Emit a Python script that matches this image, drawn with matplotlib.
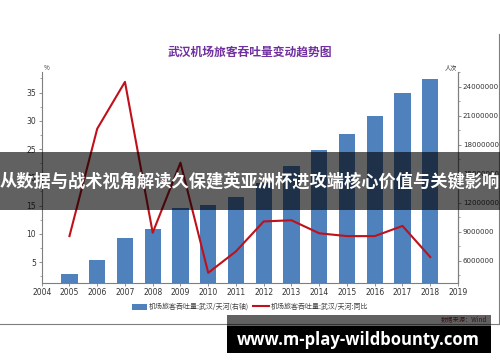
import matplotlib
matplotlib.use("Agg")
import matplotlib.pyplot as plt
from matplotlib.patches import Rectangle, Patch
from matplotlib.lines import Line2D
from matplotlib.ticker import MultipleLocator, FuncFormatter

plt.rcParams['font.family'] = ['Noto Sans CJK SC', 'DejaVu Sans']

years = [2005, 2006, 2007, 2008, 2009, 2010, 2011, 2012, 2013, 2014, 2015, 2016, 2017, 2018]
passengers = [4670000, 6100000, 8400000, 9270000, 11430000, 11750000, 12550000,
              14050000, 15860000, 17500000, 19170000, 21000000, 23400000, 24780000]
growth = [9.6, 28.6, 36.9, 10.2, 22.6, 3.1, 6.9, 12.2, 12.4, 10.1, 9.6, 9.6, 11.4, 5.9]
xticks = list(range(2004, 2020))

title = "武汉机场旅客吞吐量变动趋势图"
bar_label = "机场旅客吞吐量:武汉/天河(右轴)"
line_label = "机场旅客吞吐量:武汉/天河:同比"
source = "数据来源：Wind"
banner = "从数据与战术视角解读久保建英亚洲杯进攻端核心价值与关键影响"
site = "www.m-play-wildbounty.com"

W, H = 500, 362
fig = plt.figure(figsize=(W / 100, H / 100), dpi=100)

def fx(px):
    return px / W

def fy(py):
    return 1 - py / H

ax = fig.add_axes([fx(41.7), fy(283), fx(458 - 41.7), (283 - 71.7) / H])
ax2 = ax.twinx()
ax.set_zorder(ax2.get_zorder() + 1)
ax.patch.set_visible(False)

ax2.bar(years, passengers, width=0.58, color='#4f81bd')
ax.plot(years, growth, color='#c0101a', lw=1.5)

tick_font = ['Liberation Sans Narrow', 'DejaVu Sans']
ax.set_xlim(2004, 2019)
ax.set_xticks(xticks)
ax.set_xticklabels([str(y) for y in xticks], family=tick_font, fontsize=5.5)
ax.set_ylim(1.3, 38.7)
ax.yaxis.set_major_locator(MultipleLocator(5))
ax.yaxis.set_minor_locator(MultipleLocator(2.5))
ax.yaxis.set_major_formatter(FuncFormatter(lambda v, p: "%d" % v))
ax2.set_ylim(3700000, 25570000)
ax2.yaxis.set_major_locator(MultipleLocator(3000000))
ax2.yaxis.set_minor_locator(MultipleLocator(1500000))
ax2.yaxis.set_major_formatter(FuncFormatter(lambda v, p: "%d" % v))

for a in (ax, ax2):
    a.spines['top'].set_visible(False)
    for s in a.spines.values():
        s.set_color('#7f7f7f')
        s.set_linewidth(0.8)
    a.tick_params(which='major', length=2.5, width=0.6, color='#7f7f7f',
                  labelsize=5.5, pad=1.5, labelcolor='#333333')
    a.tick_params(which='minor', length=1.5, width=0.5, color='#7f7f7f')
    for lab in a.get_yticklabels():
        lab.set_family(tick_font)
ax.tick_params(axis='x', which='both', length=2)
ax2.tick_params(axis='y', labelsize=5.1, pad=1)
ax2.spines['left'].set_visible(False)
ax2.spines['bottom'].set_visible(False)

fig.text(fx(44), fy(72), "%", fontsize=4.5, color='#333333', ha='left', va='bottom')
fig.text(fx(457), fy(72), "人次", fontsize=4.5, color='#333333', ha='right', va='bottom')

fig.text(0.5, fy(52), title, fontsize=8.5, fontweight='bold', color='#7030a0',
         ha='center', va='center')

handles = [Patch(facecolor='#4f81bd', edgecolor='none'),
           Line2D([0], [0], color='#c0101a', lw=1.5)]
fig.legend(handles, [bar_label, line_label], loc='center', ncol=2,
           bbox_to_anchor=(fx(250), fy(307)), frameon=False, fontsize=5,
           labelcolor='#404040', handlelength=2.2, handleheight=1.0,
           columnspacing=0.6, handletextpad=0.3)

# frame lines
fig.add_artist(Line2D([fx(498.5), fx(498.5)], [fy(34), fy(324)], color='#7f7f7f', lw=0.8))
fig.add_artist(Line2D([0, fx(498.5)], [fy(324), fy(324)], color='#7f7f7f', lw=0.8))

fig.text(fx(487), fy(319), source, fontsize=4.5, style='italic', color='#8b3a3a',
         ha='right', va='center')

# overlay banner
fig.add_artist(Rectangle((0, fy(210)), 1, (210 - 152) / H, transform=fig.transFigure,
                         facecolor='black', alpha=0.62, edgecolor='none', zorder=10))
fig.text(0.5, fy(182), banner, fontsize=12.4, fontweight='bold', color='white',
         ha='center', va='center', zorder=11)

# site box
fig.add_artist(Rectangle((fx(227), fy(326)), fx(491 - 227), (326 - 315) / H,
                         transform=fig.transFigure, facecolor='black', alpha=0.62,
                         edgecolor='none', zorder=10))
fig.add_artist(Rectangle((fx(227), fy(353)), fx(491 - 227), (353 - 326) / H,
                         transform=fig.transFigure, facecolor='black',
                         edgecolor='none', zorder=10))
fig.text(fx(358), fy(340), site, fontsize=12, fontweight='bold', color='white',
         family=['Open Sans', 'DejaVu Sans'], ha='center', va='center', zorder=11)

fig.savefig("out.png", dpi=100)
